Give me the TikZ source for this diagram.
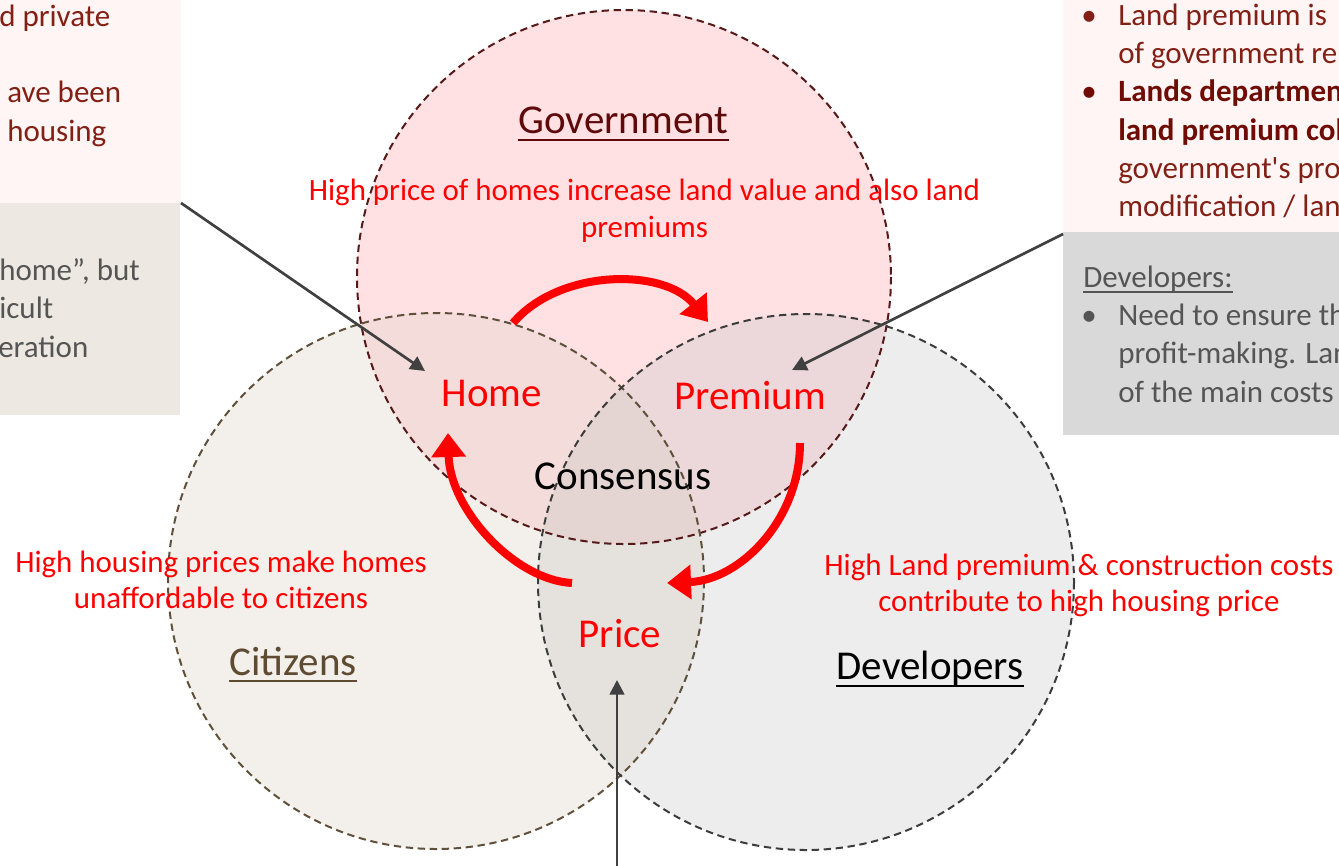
\documentclass[tikz,border=0pt]{standalone}
\usepackage{fontspec}
\setmainfont{Carlito}[Ligatures=TeXOff]
\usetikzlibrary{arrows.meta}
\definecolor{govfill}{RGB}{255,224,227}
\definecolor{citfill}{RGB}{225,215,202}
\definecolor{devfill}{RGB}{200,200,200}
\definecolor{govline}{RGB}{85,25,25}
\definecolor{citline}{RGB}{95,80,60}
\definecolor{devline}{RGB}{60,60,60}
\definecolor{govtext}{RGB}{95,10,10}
\definecolor{cittext}{RGB}{94,75,50}
\definecolor{pinkbox}{RGB}{255,245,244}
\definecolor{beigebox}{RGB}{237,233,226}
\definecolor{graybox}{RGB}{217,217,217}
\definecolor{boxred}{RGB}{130,32,22}
\definecolor{boxredbold}{RGB}{112,12,6}
\definecolor{boxgray}{RGB}{85,85,85}
\definecolor{arrowgray}{RGB}{64,64,64}
\definecolor{pure}{RGB}{255,0,0}
\tikzset{
  bigword/.style={font=\fontsize{30.75}{37}\selectfont, inner sep=0pt, anchor=base},
  lbl/.style={font=\fontsize{23.2}{27.5}\selectfont, text=pure, align=center, inner sep=0pt},
  boxtxt/.style={font=\fontsize{23.25}{28.7}\selectfont, inner sep=0pt, anchor=base west},
  bulletmark/.style={font=\fontsize{23.25}{28.7}\selectfont, inner sep=0pt, anchor=base},
  ring/.style={dash pattern=on 5.5pt off 3.5pt, line width=1.5pt},
  redarrow/.style={draw=pure, line width=6pt, -{Triangle[length=18pt,width=25pt]}},
  thinarrow/.style={draw=arrowgray, line width=2pt, -{Triangle[length=11pt,width=11pt]}},
}
\begin{document}
\begin{tikzpicture}[x=0.75pt,y=-0.75pt]
\useasboundingbox (0,0) rectangle (1339,865);
\clip (0,0) rectangle (1339,865);
% side boxes
\fill[pinkbox] (0,0) rectangle (181,203);
\fill[beigebox] (0,203) rectangle (180,415);
\fill[pinkbox] (1063,0) rectangle (1339,232);
\fill[graybox] (1063,232) rectangle (1339,435);
\coordinate (lcorner) at (181,203);
\coordinate (rcorner) at (1063,234);
\coordinate (pbottom) at (617,866);
% circles
\fill[govfill] (624,277) circle[radius=267];
\fill[citfill, fill opacity=0.4] (436,581) circle[radius=268];
\fill[devfill, fill opacity=0.33] (806,582) circle[radius=268];
\draw[ring, govline] (624,277) circle[radius=267];
\draw[ring, citline] (436,581) circle[radius=268];
\draw[ring, devline] (806,582) circle[radius=268];
% left box text
\node[boxtxt, text=boxred] (l1) at (-1,26) {d private};
\node[boxtxt, text=boxred] (l2) at (7,102.6) {ave been};
\node[boxtxt, text=boxred] (l3) at (7,141) {housing};
\node[boxtxt, text=boxgray] (l4) at (-1,280) {home”, but};
\node[boxtxt, text=boxgray] (l5) at (-1,318.6) {icult};
\node[boxtxt, text=boxgray] (l6) at (-2,357) {eration};
% right box text
\node[bulletmark, text=boxred] (rb1) at (1089,25) {•};
\node[boxtxt, text=boxred] (r1) at (1118,25) {Land premium is};
\node[boxtxt, text=boxred] (r2) at (1118,63.3) {of government re};
\node[bulletmark, text=boxredbold] (rb2) at (1089,101.6) {•};
\node[boxtxt, text=boxredbold, font=\fontsize{23.25}{28.7}\selectfont\bfseries] (r3) at (1118,101.6) {Lands departmen};
\node[boxtxt, text=boxredbold, font=\fontsize{23.25}{28.7}\selectfont\bfseries] (r4) at (1118,140) {land premium col};
\node[boxtxt, text=boxred] (r5) at (1118,178) {government's pro};
\node[boxtxt, text=boxred] (r6) at (1118,216.5) {modification / lan};
\node[boxtxt, text=boxgray] (dvh) at (1083,287) {Developers:};
\draw[boxgray, line width=1.2pt] ([yshift=-3.8pt]dvh.base west) -- ([yshift=-3.8pt]dvh.base east);
\node[bulletmark, text=boxgray] (gb1) at (1089,325.3) {•};
\node[boxtxt, text=boxgray] (g1) at (1118,325.3) {Need to ensure th};
\node[boxtxt, text=boxgray] (g2) at (1118,363.6) {profit-making. Lan};
\node[boxtxt, text=boxgray] (g3) at (1118,402) {of the main costs};
% main words
\node[bigword, text=govtext] (gov) at (623.5,133) {Government};
\draw[govtext, line width=1.5pt] ([yshift=-5.25pt]gov.base west) -- ([yshift=-5.25pt]gov.base east);
\node[bigword, text=pure] (home) at (492,406) {Home};
\node[bigword, text=pure] (premium) at (750,409) {Premium};
\node[bigword, text=black] (cons) at (623,489) {Consensus};
\node[bigword, text=pure] (price) at (620,647) {Price};
\node[bigword, text=cittext] (cit) at (293,675) {Citizens};
\draw[cittext, line width=1.5pt] ([yshift=-4.5pt]cit.base west) -- ([yshift=-4.5pt]cit.base east);
\node[bigword, text=black] (dev) at (930,679) {Developers};
\draw[black, line width=1.5pt] ([yshift=-5pt]dev.base west) -- ([yshift=-5pt]dev.base east);
% labels
\node[lbl] (govlbl) at (644.5,211) {High price of homes increase land value and also land\\premiums};
\node[lbl] (citlbl) at (221,580) {High housing prices make homes\\unaffordable to citizens};
\node[lbl] (devlbl) at (1079,585.5) {High Land premium \& construction costs\\contribute to high housing price};
% red cycle arrows
\coordinate (a1s) at (513,323);
\coordinate (a1e) at (708,322);
\coordinate (a2s) at (800,443);
\coordinate (a2e) at (667,583);
\coordinate (a3s) at (572,583);
\coordinate (a3e) at (448,433);
\draw[redarrow] (a1s) .. controls (560,268) and (665,268) .. (a1e);
\draw[redarrow] (a2s) .. controls (800,520) and (740,580) .. (a2e);
\draw[redarrow] (a3s) .. controls (515,580) and (450,510) .. (a3e);
% thin pointer arrows
\coordinate (hometip) at (425,371);
\coordinate (premtip) at (792,370);
\coordinate (pricetip) at (617,680);
\draw[thinarrow] (lcorner) -- (hometip);
\draw[thinarrow] (rcorner) -- (premtip);
\draw[thinarrow] (pbottom) -- (pricetip);
\end{tikzpicture}
\end{document}
